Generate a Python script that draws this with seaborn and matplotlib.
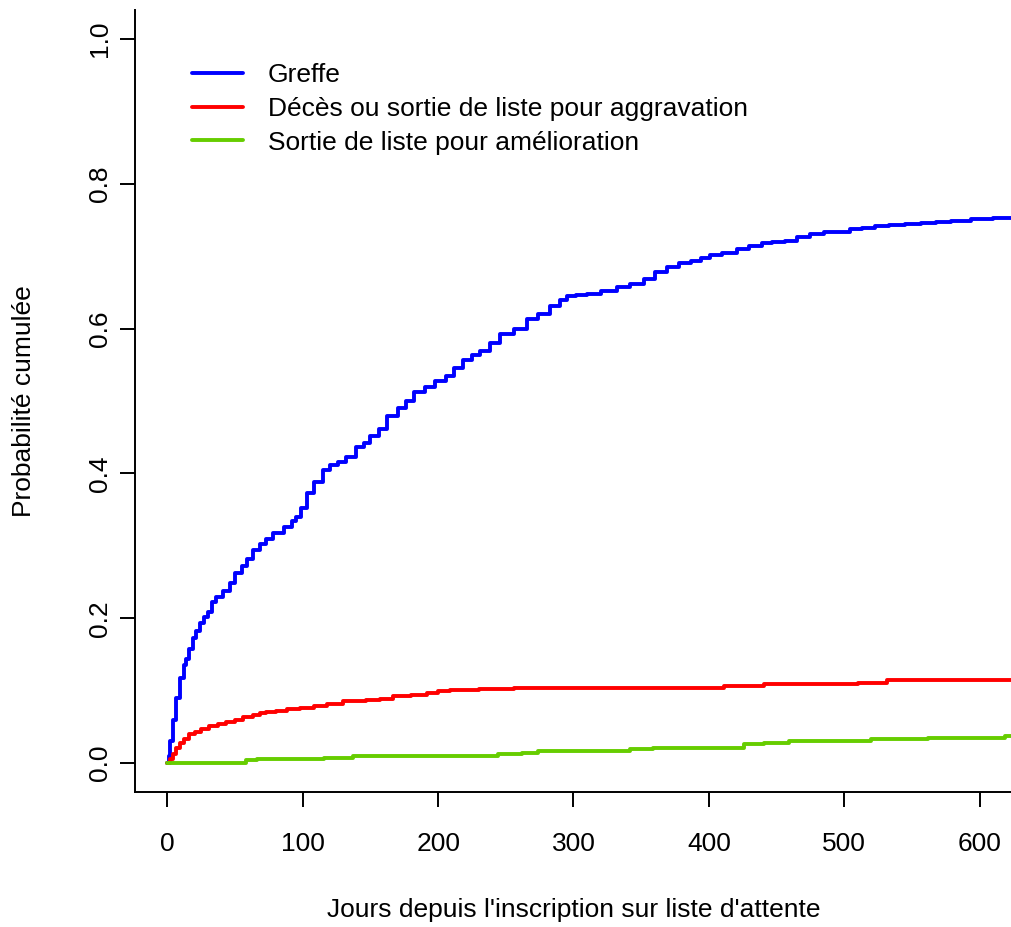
import numpy as np
import pandas as pd
import matplotlib
matplotlib.use("Agg")
import matplotlib.pyplot as plt
import seaborn as sns

# ---- data ----
greffe_t = [0, 1, 2, 4, 6, 9, 12, 14, 16, 18.5, 21, 24, 27, 30, 33, 36, 41, 46, 50, 55, 59, 63, 68, 73, 78,
            86, 92, 95, 99, 103, 108, 115, 120, 126, 132, 139, 145, 150, 156, 162, 170, 176, 182, 190, 198,
            206, 212, 218, 225, 231, 238, 246, 256, 266, 274, 283, 290, 295, 302, 310, 320, 332, 342, 352,
            360, 369, 378, 387, 394, 401, 410, 421, 430, 439, 447, 456, 465, 475, 485, 495, 504, 513, 523,
            533, 545, 557, 568, 579, 594, 610, 640]
greffe_p = [0, 0.01, 0.03, 0.06, 0.09, 0.118, 0.135, 0.144, 0.158, 0.172, 0.183, 0.194, 0.201, 0.208, 0.222,
            0.229, 0.238, 0.249, 0.262, 0.272, 0.282, 0.294, 0.302, 0.310, 0.318, 0.326, 0.334, 0.340, 0.352,
            0.373, 0.388, 0.405, 0.412, 0.416, 0.423, 0.436, 0.442, 0.452, 0.462, 0.479, 0.490, 0.500, 0.512,
            0.520, 0.527, 0.534, 0.545, 0.556, 0.563, 0.569, 0.580, 0.592, 0.600, 0.613, 0.620, 0.631, 0.640,
            0.645, 0.647, 0.648, 0.652, 0.657, 0.662, 0.669, 0.678, 0.685, 0.690, 0.694, 0.698, 0.701, 0.704,
            0.710, 0.714, 0.718, 0.720, 0.721, 0.726, 0.731, 0.733, 0.734, 0.737, 0.739, 0.741, 0.743, 0.744,
            0.746, 0.747, 0.749, 0.752, 0.753, 0.754]

deces_t = [0, 2, 4, 6.5, 9, 12, 16, 20, 25, 31, 37, 43, 50, 56, 63, 68, 73, 80, 88, 98, 108, 118, 130, 138,
           147, 157, 167, 180, 192, 200, 209, 230, 256, 411, 441, 510, 532, 640]
deces_p = [0, 0.006, 0.013, 0.021, 0.027, 0.033, 0.040, 0.043, 0.047, 0.051, 0.054, 0.057, 0.060, 0.063,
           0.066, 0.069, 0.071, 0.072, 0.074, 0.076, 0.079, 0.082, 0.085, 0.086, 0.087, 0.089, 0.092, 0.094,
           0.097, 0.099, 0.101, 0.102, 0.104, 0.107, 0.109, 0.111, 0.114, 0.114]

amelio_t = [0, 58, 66, 116, 137, 244, 262, 274, 342, 359, 426, 441, 459, 520, 562, 619, 640]
amelio_p = [0, 0.004, 0.006, 0.0074, 0.0097, 0.012, 0.0143, 0.0166, 0.019, 0.021, 0.026, 0.028, 0.0305,
            0.033, 0.035, 0.037, 0.037]

labels = ["Greffe", "Décès ou sortie de liste pour aggravation", "Sortie de liste pour amélioration"]
colors = ["#0000FF", "#FF0000", "#66CD00"]
x_ticks = [0, 100, 200, 300, 400, 500, 600]
y_ticks = [0.0, 0.2, 0.4, 0.6, 0.8, 1.0]
y_ticklabels = ["0.0", "0.2", "0.4", "0.6", "0.8", "1.0"]

df = pd.concat([
    pd.DataFrame({"t": greffe_t, "p": greffe_p, "evt": labels[0]}),
    pd.DataFrame({"t": deces_t, "p": deces_p, "evt": labels[1]}),
    pd.DataFrame({"t": amelio_t, "p": amelio_p, "evt": labels[2]}),
], ignore_index=True)

sns.set_style("white")
plt.rcParams["font.family"] = ["Liberation Sans", "DejaVu Sans"]
plt.rcParams["text.color"] = "black"
plt.rcParams["axes.labelcolor"] = "black"
plt.rcParams["xtick.color"] = "black"
plt.rcParams["ytick.color"] = "black"
FS = 19.0

W, H = 1012, 927
fig = plt.figure(figsize=(W / 100, H / 100), dpi=100)
ax = fig.add_axes([135 / W, (H - 792) / H, (1012 - 135) / W, (792 - 10) / H])

sns.lineplot(data=df, x="t", y="p", hue="evt", hue_order=labels,
             palette=dict(zip(labels, colors)), estimator=None, sort=True,
             drawstyle="steps-post", linewidth=2.8, ax=ax, legend=True)

ax.set_xlim(-24, 624)
ax.set_ylim(-0.04, 1.04)
ax.set_xticks(x_ticks)
ax.set_xticklabels([str(v) for v in x_ticks])
ax.set_yticks(y_ticks)
ax.set_yticklabels(y_ticklabels, rotation=90, va="center")

for s in ["top", "right"]:
    ax.spines[s].set_visible(False)
for s in ["left", "bottom"]:
    ax.spines[s].set_color("black")
    ax.spines[s].set_linewidth(1.4)

ax.tick_params(axis="both", which="major", direction="out", length=10.8, width=1.4,
               colors="black", labelcolor="black", labelsize=FS, bottom=True, left=True)
ax.tick_params(axis="x", pad=18)
ax.tick_params(axis="y", pad=6)

ax.set_xlabel("Jours depuis l'inscription sur liste d'attente", fontsize=FS, labelpad=30, color="black")
ax.set_ylabel("Probabilité cumulée", fontsize=FS, labelpad=37, color="black")
ax.grid(False)

handles, _ = ax.get_legend_handles_labels()
leg = ax.legend(handles=handles, labels=labels, loc="upper left",
                bbox_to_anchor=(192 / W, (H - 63) / H), bbox_transform=fig.transFigure,
                frameon=False, fontsize=FS, handlelength=1.95, handletextpad=0.92,
                labelspacing=0.37, borderpad=0, borderaxespad=0)
for lh in leg.get_lines():
    lh.set_linewidth(2.8)
for txt in leg.get_texts():
    txt.set_color("black")

fig.savefig("out.png", dpi=100, facecolor="white")
